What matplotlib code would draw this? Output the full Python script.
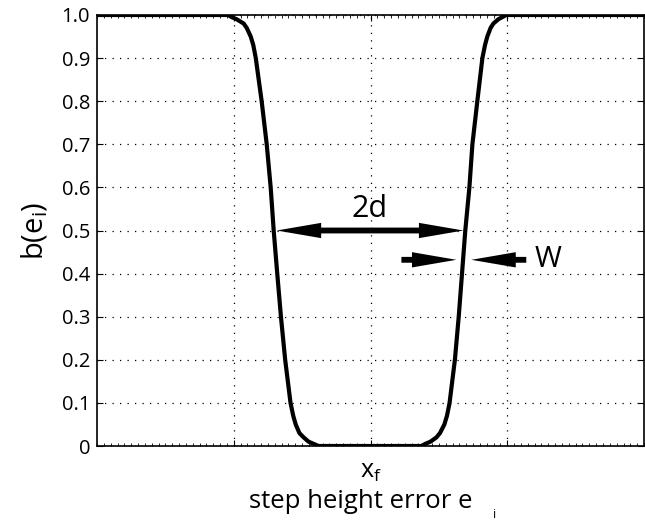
import matplotlib
matplotlib.use("Agg")
import matplotlib.pyplot as plt
from matplotlib.ticker import MultipleLocator

plt.rcParams["font.family"] = ["Open Sans", "DejaVu Sans"]
plt.rcParams["mathtext.default"] = "regular"

# curve (step height error vs b(e_i))
err = [-2.0, -1.10, -1.04, -1.015, -0.978, -0.927, -0.905, -0.876, -0.857,
       -0.839, -0.796, -0.759, -0.730, -0.708, -0.682, -0.655, -0.624, -0.585,
       -0.565, -0.547, -0.520, -0.489, -0.453, -0.416, -0.380, 0.0,
       0.372, 0.401, 0.438, 0.482, 0.508, 0.540, 0.559, 0.578, 0.617, 0.645,
       0.669, 0.693, 0.723, 0.745, 0.781, 0.818, 0.837, 0.854, 0.878, 0.898,
       0.934, 0.963, 0.993, 1.05, 2.0]
b_val = [1.0, 1.0, 1.0, 0.995, 0.99, 0.98, 0.97, 0.95, 0.93,
         0.9, 0.8, 0.7, 0.6, 0.5, 0.4, 0.3, 0.2, 0.1,
         0.07, 0.05, 0.03, 0.02, 0.01, 0.005, 0.0, 0.0,
         0.0, 0.005, 0.01, 0.02, 0.03, 0.05, 0.07, 0.1, 0.2, 0.3,
         0.4, 0.5, 0.6, 0.7, 0.8, 0.9, 0.93, 0.95, 0.97, 0.98,
         0.99, 0.995, 1.0, 1.0, 1.0]

y_ticks = [0, 0.1, 0.2, 0.3, 0.4, 0.5, 0.6, 0.7, 0.8, 0.9, 1.0]
y_labels = ["0", "0.1", "0.2", "0.3", "0.4", "0.5", "0.6", "0.7", "0.8", "0.9", "1.0"]
x_ticks = [-1, 0, 1]
x_labels = ["", r"x$_f$", ""]

# annotation anchors: (tail, tip, level)
span_2d = (-0.686, 0.679, 0.5)
w_left = (0.226, 0.628, 0.432)
w_right = (1.139, 0.737, 0.432)

fig = plt.figure(figsize=(6.45, 5.21), dpi=100)
ax = fig.add_axes([97 / 645, 1 - 446 / 521, 1 - 97 / 645 - 0.0015, (446 - 15) / 521])

ax.plot(err, b_val, color="black", lw=3.0, solid_joinstyle="round", zorder=3)

ax.set_xlim(-2, 2)
ax.set_ylim(0, 1)
ax.set_yticks(y_ticks)
ax.set_yticklabels(y_labels, fontsize=14.5)
ax.set_xticks(x_ticks)
ax.set_xticklabels(x_labels, fontsize=18)
ax.xaxis.set_minor_locator(MultipleLocator(0.05))
ax.tick_params(which="both", direction="in", top=True, right=True)
ax.tick_params(which="major", length=4, width=0.8, pad=5)
ax.tick_params(which="minor", length=2.5, width=0.6)
ax.tick_params(axis="x", which="major", pad=9)
ax.grid(True, which="major", color="black", lw=0.9, linestyle=(0, (1, 5)))
for sp in ax.spines.values():
    sp.set_linewidth(1.2)

ax.set_ylabel(r"b(e$_i$)", fontsize=21, labelpad=8)
fig.text(361 / 645, 1 - 508 / 521, "step height error e", fontsize=18.5,
         ha="center", va="baseline")
fig.text(495 / 645, 1 - 518 / 521, "i", fontsize=9, ha="center", va="baseline")

arrow_kw = dict(arrowstyle="simple,head_length=3.2,head_width=1.1,tail_width=0.42",
                fc="black", ec="none", shrinkA=0, shrinkB=0, mutation_scale=10)

x0, x1, y = span_2d
mid = (x0 + x1) / 2
ax.annotate("", xy=(x1, y), xytext=(mid, y), arrowprops=arrow_kw, zorder=4)
ax.annotate("", xy=(x0, y), xytext=(mid, y), arrowprops=arrow_kw, zorder=4)
ax.text(mid, y + 0.014, "2d", fontsize=22, ha="center", va="bottom")

x0, x1, y = w_left
ax.annotate("", xy=(x1, y), xytext=(x0, y), arrowprops=arrow_kw, zorder=4)
x0, x1, y = w_right
ax.annotate("", xy=(x1, y), xytext=(x0, y), arrowprops=arrow_kw, zorder=4)
ax.text(1.20, y, "W", fontsize=21, ha="left", va="center")

fig.savefig("out.png", dpi=100)
